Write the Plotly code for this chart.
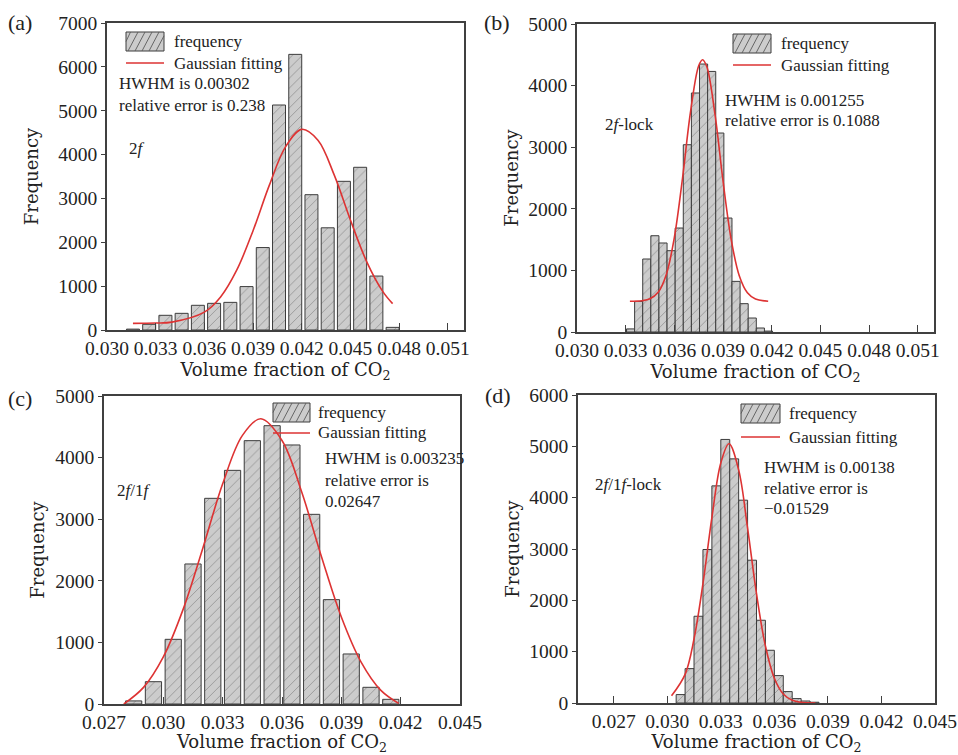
import plotly.graph_objects as go

# ---------------- data ----------------
# (a) 2f
a_x = [0.0316, 0.0326, 0.0336, 0.0346, 0.0356, 0.0366, 0.0376, 0.0386, 0.0396,
       0.0406, 0.0416, 0.0426, 0.0436, 0.0446, 0.0456, 0.0466, 0.0476]
a_y = [20, 130, 335, 380, 563, 608, 630, 990, 1880, 5130, 6285, 3085, 2330,
       3390, 3710, 1230, 60]
a_fit_x = [0.0316, 0.033, 0.034, 0.036, 0.037, 0.038, 0.039, 0.040, 0.041, 0.042,
           0.043, 0.044, 0.045, 0.046, 0.047, 0.0476]
a_fit_y = [150, 158, 180, 407, 754, 1370, 2264, 3298, 4177, 4575, 4327, 3536,
           2508, 1561, 875, 602]

# (b) 2f-lock
b_x = [0.0333, 0.0338, 0.0343, 0.0348, 0.0353, 0.0358, 0.0363, 0.0368, 0.0373,
       0.0378, 0.0383, 0.0388, 0.0393, 0.0398, 0.0403, 0.0408, 0.0413, 0.0418]
b_y = [50, 497, 1185, 1563, 1445, 1320, 1688, 3040, 3880, 4350, 4230, 3230,
       1850, 822, 460, 227, 65, 15]
b_fit_x = [0.03326, 0.034, 0.0345, 0.0350, 0.0355, 0.0360, 0.0365, 0.0370, 0.0375,
           0.03774, 0.0380, 0.0385, 0.0390, 0.0395, 0.0400, 0.0405, 0.0410, 0.04178]
b_fit_y = [500, 508, 539, 644, 931, 1535, 2492, 3581, 4322, 4420, 4305, 3541,
           2448, 1503, 914, 637, 536, 500]

# (c) 2f/1f
c_x = [0.0285, 0.0295, 0.0305, 0.0315, 0.0325, 0.0335, 0.0345, 0.0355, 0.0365,
       0.0375, 0.0385, 0.0395, 0.0405, 0.0415]
c_y = [50, 362, 1050, 2273, 3339, 3793, 4275, 4518, 4205, 3079, 1694, 812, 271, 76]
c_fit_x = [0.0280, 0.029, 0.030, 0.031, 0.032, 0.033, 0.034, 0.03493, 0.036,
           0.037, 0.038, 0.039, 0.040, 0.041, 0.0419]
c_fit_y = [0, 270, 765, 1536, 2534, 3574, 4361, 4630, 4277, 3437, 2387, 1412,
           680, 221, 10]

# (d) 2f/1f-lock
d_x = [0.03075, 0.03125, 0.03175, 0.03225, 0.03275, 0.03325, 0.03375, 0.03425,
       0.03475, 0.03525, 0.03575, 0.03625, 0.03675, 0.03725, 0.03775, 0.03825]
d_y = [164, 670, 1690, 2990, 4230, 5134, 4756, 3951, 2782, 1612, 1027, 534,
       222, 86, 39, 15]
d_fit_x = [0.03024, 0.0310, 0.0315, 0.0320, 0.0325, 0.0330, 0.03346, 0.0340,
           0.0345, 0.0350, 0.0355, 0.0360, 0.0365, 0.0370, 0.0375, 0.0383]
d_fit_y = [140, 558, 1248, 2325, 3611, 4676, 5050, 4541, 3407, 2130, 1110, 482,
           175, 53, 13, 0]

panel_labels = ["(a)", "(b)", "(c)", "(d)"]
method_labels = ["2<i>f</i>", "2<i>f</i>-lock", "2<i>f</i>/1<i>f</i>", "2<i>f</i>/1<i>f</i>-lock"]
legend_names = ["frequency", "Gaussian fitting"]
hwhm_texts = ["HWHM is 0.00302", "HWHM is 0.001255", "HWHM is 0.003235", "HWHM is 0.00138"]
err_texts = [["relative error is 0.238"], ["relative error is 0.1088"],
             ["relative error is", "0.02647"], ["relative error is", "\u22120.01529"]]
x_ranges = [[0.030, 0.052], [0.030, 0.052], [0.027, 0.045], [0.025, 0.045]]
x_tick0 = [0.030, 0.030, 0.027, 0.027]
y_ranges = [[0, 7000], [0, 5000], [0, 5000], [0, 6000]]
bar_widths = [0.0008, 0.0005, 0.00082, 0.0005]

# ---------------- styling ----------------
TFONT = "Liberation Serif"
HFONT = "DejaVu Serif"
W, H = 958, 755
RED = "#dd3333"
AX = "#404040"
TXT = "#222222"
BAR_FILL = "#cccccc"

def px_x(p):
    return p / W

def px_y(p):
    return 1 - p / H

# panel boxes in pixels: (left, right, top, bottom)
boxes = [(107, 464, 23, 330), (577, 934, 24, 332), (104, 460, 396, 704), (578, 935, 395, 703)]
ytitle_standoff = [15, 5, 6, 5]

fig = go.Figure()
series = [(a_x, a_y, a_fit_x, a_fit_y), (b_x, b_y, b_fit_x, b_fit_y),
          (c_x, c_y, c_fit_x, c_fit_y), (d_x, d_y, d_fit_x, d_fit_y)]

for i, (bx, by, fx, fy) in enumerate(series):
    xa = "x" if i == 0 else f"x{i+1}"
    ya = "y" if i == 0 else f"y{i+1}"
    fig.add_trace(go.Bar(
        x=bx, y=by, width=bar_widths[i], xaxis=xa, yaxis=ya,
        name=legend_names[0], showlegend=False,
        marker=dict(color=BAR_FILL, line=dict(color="#3c3c3c", width=1),
                    pattern=dict(shape="/", fgcolor="#5a5a5a", bgcolor=BAR_FILL,
                                 size=7, solidity=0.12)),
    ))
    fig.add_trace(go.Scatter(
        x=fx, y=fy, xaxis=xa, yaxis=ya, mode="lines", showlegend=False,
        name=legend_names[1], line=dict(color=RED, width=1.6, shape="spline"),
    ))

layout = dict(
    width=W, height=H, margin=dict(l=0, r=0, t=0, b=0, autoexpand=False),
    paper_bgcolor="white", plot_bgcolor="white",
    font=dict(family=TFONT, size=19, color=TXT),
    barmode="overlay", showlegend=False,
)

annotations = []
shapes = []
for i, (l, r, t, b) in enumerate(boxes):
    sfx = "" if i == 0 else str(i + 1)
    layout[f"xaxis{sfx}"] = dict(
        domain=[px_x(l), px_x(r)], anchor=f"y{sfx}", range=x_ranges[i],
        tick0=x_tick0[i], dtick=0.003, tickformat=".3f", automargin=False,
        ticks="inside", ticklen=7, tickcolor=AX, tickwidth=1.2,
        showline=True, mirror=True, linecolor=AX, linewidth=1.5,
        showgrid=False, zeroline=False, layer="above traces",
        tickfont=dict(family=TFONT, size=19.5, color=TXT),
        title=dict(text="Volume fraction of CO<sub>2</sub>", standoff=2,
                   font=dict(family=HFONT, size=18, color=TXT)),
    )
    layout[f"yaxis{sfx}"] = dict(
        domain=[px_y(b), px_y(t)], anchor=f"x{sfx}", range=y_ranges[i],
        dtick=1000, ticks="outside", ticklen=4, tickcolor=AX, tickwidth=1.2,
        showline=True, mirror=True, linecolor=AX, linewidth=1.5, automargin=False,
        showgrid=False, zeroline=False, layer="above traces",
        tickfont=dict(family=TFONT, size=19.5, color=TXT),
        title=dict(text="Frequency", standoff=ytitle_standoff[i],
                   font=dict(family=HFONT, size=18, color=TXT)),
    )

# ---- hand-drawn legend keys (hatched box + red line) with their texts ----
# (box left, box top, box right, box bottom, text left, line y)
legend_geo = [(126, 32, 164, 51, 172, 63),
              (733, 34, 771, 53, 779, 65),
              (273, 403, 310, 422, 316, 433),
              (741, 404, 780, 423, 787, 437)]
for (l, t, r, b, tx, ly) in legend_geo:
    shapes.append(dict(type="rect", xref="paper", yref="paper",
                       x0=px_x(l), x1=px_x(r), y0=px_y(b), y1=px_y(t),
                       fillcolor=BAR_FILL, line=dict(color="#3c3c3c", width=1)))
    h = b - t
    slope_dx = 10.0
    for off in [2, 9, 16, 23]:
        shapes.append(dict(type="line", xref="paper", yref="paper",
                           x0=px_x(l + off), y0=px_y(b), x1=px_x(l + off + slope_dx), y1=px_y(t),
                           line=dict(color="#5a5a5a", width=0.9)))
    shapes.append(dict(type="line", xref="paper", yref="paper",
                       x0=px_x(l), y0=px_y(b - h * 0.5), x1=px_x(l + 4.5), y1=px_y(t),
                       line=dict(color="#5a5a5a", width=0.9)))
    shapes.append(dict(type="line", xref="paper", yref="paper",
                       x0=px_x(l + 30), y0=px_y(b), x1=px_x(r), y1=px_y(b - h * (r - l - 30) / slope_dx),
                       line=dict(color="#5a5a5a", width=0.9)))
    shapes.append(dict(type="line", xref="paper", yref="paper",
                       x0=px_x(l), x1=px_x(r), y0=px_y(ly), y1=px_y(ly),
                       line=dict(color=RED, width=1.6)))
    for txt, yy in zip(legend_names, [(t + b) / 2, ly]):
        annotations.append(dict(text=txt, x=px_x(tx), y=px_y(yy), xref="paper", yref="paper",
                                showarrow=False, xanchor="left", yanchor="middle",
                                font=dict(family=TFONT, size=17, color=TXT)))

# panel letters
for (txt, x, y) in zip(panel_labels, [20, 497, 20, 498], [22, 22, 398, 395]):
    annotations.append(dict(text=txt, x=px_x(x), y=px_y(y), xref="paper", yref="paper",
                            showarrow=False, xanchor="center", yanchor="middle",
                            font=dict(family=TFONT, size=22, color=TXT)))

# method labels
for (txt, x, y) in zip(method_labels, [127, 603, 115, 593], [148, 124, 490, 484]):
    annotations.append(dict(text=txt, x=px_x(x), y=px_y(y), xref="paper", yref="paper",
                            showarrow=False, xanchor="left", yanchor="middle",
                            font=dict(family=TFONT, size=17, color=TXT)))

# HWHM / relative error
hw_pos = [(117, 84), (723, 100), (323, 459), (762, 467)]
for i, (x, y) in enumerate(hw_pos):
    lines = [hwhm_texts[i]] + err_texts[i]
    for k, line in enumerate(lines):
        annotations.append(dict(text=line, x=px_x(x), y=px_y(y + 21 * k),
                                xref="paper", yref="paper", showarrow=False,
                                xanchor="left", yanchor="middle",
                                font=dict(family=TFONT, size=17, color=TXT)))

layout["annotations"] = annotations
layout["shapes"] = shapes
fig.update_layout(**layout)
fig.write_html("out.html", config={"displayModeBar": False},
               post_script="document.body.style.margin='0';document.body.style.overflow='hidden';")
